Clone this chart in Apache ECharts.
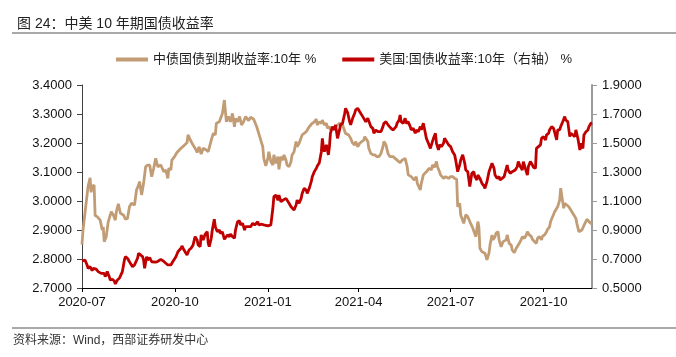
<!DOCTYPE html>
<html>
<head>
<meta charset="utf-8">
<script src="https://cdn.jsdelivr.net/npm/echarts@6/dist/echarts.min.js"></script>
<style>
html,body{margin:0;padding:0;background:#fff;}
#chart{width:676px;height:357px;}
</style>
</head>
<body>
<div id="chart"></div>
<script>
// ---- Data ----
const titleText = '图 24：中美 10 年期国债收益率';
const sourceText = '资料来源：Wind，西部证券研发中心';
const seriesNames = ['中债国债到期收益率:10年 %', '美国:国债收益率:10年（右轴） %'];
const xTickLabels = ['2020-07', '2020-10', '2021-01', '2021-04', '2021-07', '2021-10'];
const xMin = '2020-07-01';
const xMax = '2021-11-18';
const leftAxisRange = [2.7, 3.4, 0.1];
const rightAxisRange = [0.5, 1.9, 0.2];

const cnDates = ['2020-07-01','2020-07-02','2020-07-05','2020-07-07','2020-07-09','2020-07-10','2020-07-11','2020-07-13','2020-07-14','2020-07-16','2020-07-19','2020-07-21','2020-07-22','2020-07-23','2020-07-25','2020-07-27','2020-07-28','2020-07-30','2020-08-01','2020-08-03','2020-08-04','2020-08-06','2020-08-08','2020-08-11','2020-08-13','2020-08-15','2020-08-17','2020-08-19','2020-08-22','2020-08-24','2020-08-26','2020-08-27','2020-08-29','2020-08-31','2020-09-02','2020-09-04','2020-09-06','2020-09-08','2020-09-10','2020-09-12','2020-09-14','2020-09-15','2020-09-17','2020-09-20','2020-09-22','2020-09-24','2020-09-25','2020-09-27','2020-09-28','2020-10-01','2020-10-03','2020-10-07','2020-10-10','2020-10-13','2020-10-14','2020-10-17','2020-10-19','2020-10-22','2020-10-23','2020-10-25','2020-10-27','2020-10-29','2020-11-01','2020-11-03','2020-11-06','2020-11-08','2020-11-10','2020-11-11','2020-11-14','2020-11-15','2020-11-17','2020-11-19','2020-11-20','2020-11-21','2020-11-23','2020-11-25','2020-11-27','2020-11-29','2020-11-30','2020-12-02','2020-12-04','2020-12-06','2020-12-08','2020-12-10','2020-12-13','2020-12-15','2020-12-18','2020-12-19','2020-12-21','2020-12-23','2020-12-25','2020-12-27','2020-12-28','2020-12-30','2021-01-01','2021-01-02','2021-01-04','2021-01-06','2021-01-07','2021-01-09','2021-01-11','2021-01-12','2021-01-14','2021-01-16','2021-01-17','2021-01-19','2021-01-20','2021-01-22','2021-01-24','2021-01-25','2021-01-27','2021-01-29','2021-01-30','2021-02-01','2021-02-04','2021-02-06','2021-02-08','2021-02-11','2021-02-14','2021-02-16','2021-02-18','2021-02-19','2021-02-21','2021-02-23','2021-02-24','2021-02-26','2021-02-28','2021-03-01','2021-03-03','2021-03-04','2021-03-06','2021-03-09','2021-03-13','2021-03-16','2021-03-19','2021-03-22','2021-03-24','2021-03-26','2021-03-28','2021-03-29','2021-03-31','2021-04-02','2021-04-04','2021-04-06','2021-04-07','2021-04-10','2021-04-11','2021-04-13','2021-04-15','2021-04-17','2021-04-19','2021-04-21','2021-04-23','2021-04-25','2021-04-26','2021-04-28','2021-04-30','2021-05-02','2021-05-05','2021-05-07','2021-05-09','2021-05-12','2021-05-14','2021-05-17','2021-05-19','2021-05-20','2021-05-23','2021-05-24','2021-05-26','2021-05-28','2021-05-29','2021-06-01','2021-06-02','2021-06-04','2021-06-07','2021-06-08','2021-06-10','2021-06-12','2021-06-13','2021-06-15','2021-06-17','2021-06-18','2021-06-20','2021-06-21','2021-06-24','2021-06-26','2021-06-29','2021-07-01','2021-07-03','2021-07-05','2021-07-07','2021-07-08','2021-07-10','2021-07-11','2021-07-14','2021-07-16','2021-07-18','2021-07-20','2021-07-21','2021-07-23','2021-07-24','2021-07-26','2021-07-28','2021-07-29','2021-07-30','2021-08-01','2021-08-02','2021-08-04','2021-08-06','2021-08-08','2021-08-09','2021-08-11','2021-08-12','2021-08-14','2021-08-15','2021-08-17','2021-08-18','2021-08-20','2021-08-22','2021-08-23','2021-08-25','2021-08-26','2021-08-28','2021-08-30','2021-08-31','2021-09-02','2021-09-04','2021-09-05','2021-09-07','2021-09-09','2021-09-10','2021-09-12','2021-09-14','2021-09-15','2021-09-17','2021-09-19','2021-09-20','2021-09-22','2021-09-24','2021-09-25','2021-09-27','2021-09-29','2021-09-30','2021-10-02','2021-10-04','2021-10-05','2021-10-07','2021-10-08','2021-10-10','2021-10-12','2021-10-13','2021-10-15','2021-10-17','2021-10-18','2021-10-19','2021-10-21','2021-10-22','2021-10-24','2021-10-26','2021-10-28','2021-10-29','2021-10-31','2021-11-02','2021-11-03','2021-11-05','2021-11-06','2021-11-08','2021-11-09','2021-11-11','2021-11-13','2021-11-15','2021-11-17','2021-11-18'];
const cnYield = [2.850,2.900,2.990,3.050,3.080,3.030,3.050,3.055,2.950,2.946,2.934,2.900,2.911,2.860,2.877,2.929,2.940,2.963,2.952,2.934,2.963,2.990,2.958,2.952,2.937,2.940,2.980,2.992,2.986,3.038,3.055,3.067,3.021,3.061,3.118,3.124,3.124,3.084,3.113,3.147,3.118,3.113,3.124,3.101,3.107,3.078,3.113,3.107,3.141,3.155,3.167,3.182,3.191,3.201,3.228,3.205,3.193,3.176,3.167,3.187,3.162,3.182,3.176,3.170,3.210,3.233,3.228,3.268,3.273,3.270,3.302,3.348,3.308,3.273,3.291,3.273,3.302,3.256,3.285,3.273,3.291,3.262,3.273,3.291,3.277,3.289,3.282,3.285,3.256,3.233,3.210,3.187,3.147,3.121,3.147,3.170,3.136,3.124,3.159,3.130,3.153,3.109,3.153,3.141,3.159,3.141,3.124,3.118,3.136,3.159,3.170,3.205,3.187,3.199,3.228,3.233,3.239,3.256,3.268,3.273,3.282,3.262,3.273,3.268,3.279,3.262,3.268,3.251,3.256,3.245,3.251,3.256,3.268,3.262,3.233,3.228,3.216,3.199,3.193,3.205,3.187,3.199,3.205,3.210,3.222,3.205,3.182,3.164,3.159,3.159,3.153,3.153,3.164,3.187,3.205,3.193,3.164,3.153,3.153,3.147,3.141,3.132,3.141,3.147,3.118,3.090,3.084,3.090,3.072,3.084,3.061,3.038,3.061,3.090,3.101,3.095,3.113,3.107,3.124,3.116,3.136,3.118,3.101,3.090,3.078,3.084,3.078,3.084,3.084,3.078,3.075,2.980,2.992,2.952,2.923,2.952,2.946,2.929,2.934,2.906,2.900,2.877,2.929,2.910,2.837,2.825,2.831,2.820,2.797,2.820,2.848,2.883,2.866,2.877,2.889,2.894,2.866,2.842,2.860,2.854,2.866,2.883,2.854,2.848,2.831,2.822,2.837,2.842,2.854,2.868,2.877,2.871,2.883,2.894,2.883,2.877,2.868,2.860,2.854,2.871,2.877,2.866,2.879,2.883,2.894,2.902,2.911,2.929,2.946,2.963,2.963,2.980,3.003,3.044,3.020,2.975,2.992,2.986,2.980,2.969,2.963,2.952,2.940,2.923,2.894,2.894,2.900,2.900,2.923,2.937,2.929,2.923,2.920];

const usDates = ['2020-07-01','2020-07-02','2020-07-04','2020-07-06','2020-07-07','2020-07-09','2020-07-11','2020-07-12','2020-07-15','2020-07-17','2020-07-20','2020-07-21','2020-07-23','2020-07-24','2020-07-26','2020-07-28','2020-07-29','2020-07-31','2020-08-02','2020-08-03','2020-08-05','2020-08-07','2020-08-08','2020-08-10','2020-08-12','2020-08-13','2020-08-15','2020-08-17','2020-08-18','2020-08-20','2020-08-22','2020-08-23','2020-08-25','2020-08-26','2020-08-28','2020-08-30','2020-08-31','2020-09-01','2020-09-03','2020-09-04','2020-09-06','2020-09-08','2020-09-09','2020-09-12','2020-09-14','2020-09-17','2020-09-20','2020-09-24','2020-09-27','2020-09-29','2020-10-02','2020-10-04','2020-10-07','2020-10-08','2020-10-10','2020-10-13','2020-10-15','2020-10-17','2020-10-19','2020-10-21','2020-10-23','2020-10-24','2020-10-26','2020-10-27','2020-10-29','2020-10-31','2020-11-02','2020-11-03','2020-11-04','2020-11-06','2020-11-07','2020-11-09','2020-11-10','2020-11-12','2020-11-14','2020-11-15','2020-11-17','2020-11-19','2020-11-20','2020-11-22','2020-11-24','2020-11-25','2020-11-27','2020-11-29','2020-11-30','2020-12-02','2020-12-04','2020-12-05','2020-12-07','2020-12-09','2020-12-10','2020-12-12','2020-12-13','2020-12-15','2020-12-17','2020-12-19','2020-12-22','2020-12-23','2020-12-26','2020-12-28','2021-01-01','2021-01-04','2021-01-06','2021-01-07','2021-01-09','2021-01-11','2021-01-12','2021-01-14','2021-01-16','2021-01-17','2021-01-19','2021-01-20','2021-01-22','2021-01-24','2021-01-25','2021-01-27','2021-01-29','2021-01-30','2021-02-01','2021-02-03','2021-02-04','2021-02-06','2021-02-08','2021-02-09','2021-02-11','2021-02-13','2021-02-14','2021-02-16','2021-02-18','2021-02-19','2021-02-21','2021-02-23','2021-02-24','2021-02-25','2021-02-26','2021-02-28','2021-03-02','2021-03-03','2021-03-04','2021-03-06','2021-03-08','2021-03-09','2021-03-11','2021-03-13','2021-03-14','2021-03-16','2021-03-18','2021-03-19','2021-03-21','2021-03-23','2021-03-24','2021-03-26','2021-03-28','2021-03-29','2021-03-31','2021-04-02','2021-04-03','2021-04-05','2021-04-06','2021-04-08','2021-04-10','2021-04-11','2021-04-13','2021-04-15','2021-04-16','2021-04-18','2021-04-20','2021-04-23','2021-04-25','2021-04-26','2021-04-28','2021-04-30','2021-05-01','2021-05-03','2021-05-05','2021-05-06','2021-05-08','2021-05-09','2021-05-11','2021-05-12','2021-05-13','2021-05-15','2021-05-17','2021-05-18','2021-05-20','2021-05-22','2021-05-23','2021-05-25','2021-05-27','2021-05-28','2021-05-30','2021-06-01','2021-06-02','2021-06-04','2021-06-06','2021-06-07','2021-06-09','2021-06-11','2021-06-12','2021-06-14','2021-06-16','2021-06-17','2021-06-19','2021-06-20','2021-06-22','2021-06-24','2021-06-25','2021-06-27','2021-06-29','2021-07-01','2021-07-03','2021-07-05','2021-07-06','2021-07-08','2021-07-10','2021-07-11','2021-07-13','2021-07-15','2021-07-16','2021-07-18','2021-07-20','2021-07-21','2021-07-22','2021-07-24','2021-07-25','2021-07-27','2021-07-28','2021-07-30','2021-08-01','2021-08-03','2021-08-04','2021-08-06','2021-08-08','2021-08-09','2021-08-11','2021-08-13','2021-08-14','2021-08-16','2021-08-18','2021-08-19','2021-08-21','2021-08-23','2021-08-24','2021-08-26','2021-08-27','2021-08-29','2021-08-31','2021-09-01','2021-09-03','2021-09-05','2021-09-06','2021-09-08','2021-09-10','2021-09-11','2021-09-13','2021-09-15','2021-09-16','2021-09-18','2021-09-20','2021-09-21','2021-09-23','2021-09-24','2021-09-26','2021-09-28','2021-09-29','2021-10-01','2021-10-03','2021-10-04','2021-10-06','2021-10-07','2021-10-09','2021-10-11','2021-10-12','2021-10-14','2021-10-15','2021-10-17','2021-10-18','2021-10-20','2021-10-22','2021-10-23','2021-10-25','2021-10-27','2021-10-28','2021-10-30','2021-11-01','2021-11-02','2021-11-04','2021-11-06','2021-11-07','2021-11-09','2021-11-10','2021-11-12','2021-11-14','2021-11-15','2021-11-17','2021-11-18'];
const usYield = [0.686,0.683,0.693,0.659,0.636,0.647,0.620,0.636,0.630,0.613,0.601,0.590,0.601,0.578,0.613,0.578,0.555,0.560,0.548,0.528,0.555,0.567,0.578,0.613,0.693,0.716,0.705,0.681,0.670,0.647,0.659,0.670,0.705,0.739,0.728,0.716,0.693,0.636,0.716,0.693,0.710,0.681,0.670,0.678,0.683,0.698,0.683,0.659,0.659,0.683,0.716,0.750,0.774,0.790,0.762,0.728,0.762,0.774,0.797,0.854,0.831,0.797,0.785,0.866,0.831,0.872,0.888,0.808,0.785,0.843,0.900,0.974,0.923,0.888,0.900,0.877,0.888,0.836,0.843,0.866,0.854,0.872,0.854,0.843,0.900,0.957,0.963,0.935,0.946,0.900,0.923,0.923,0.920,0.923,0.946,0.935,0.957,0.935,0.940,0.935,0.928,0.935,1.050,1.130,1.141,1.106,1.141,1.095,1.106,1.095,1.118,1.106,1.084,1.060,1.050,1.038,1.072,1.106,1.084,1.118,1.152,1.187,1.175,1.152,1.187,1.233,1.267,1.302,1.325,1.341,1.364,1.440,1.532,1.475,1.440,1.487,1.418,1.475,1.567,1.613,1.590,1.625,1.532,1.590,1.625,1.636,1.700,1.739,1.710,1.647,1.625,1.670,1.705,1.728,1.739,1.716,1.705,1.682,1.693,1.647,1.670,1.682,1.613,1.601,1.567,1.590,1.578,1.578,1.613,1.636,1.647,1.625,1.613,1.601,1.590,1.578,1.613,1.636,1.659,1.693,1.647,1.636,1.670,1.636,1.647,1.613,1.590,1.601,1.567,1.590,1.578,1.613,1.590,1.636,1.567,1.532,1.498,1.463,1.487,1.532,1.567,1.498,1.452,1.487,1.475,1.498,1.532,1.510,1.487,1.475,1.440,1.418,1.383,1.302,1.349,1.383,1.418,1.360,1.314,1.302,1.199,1.245,1.291,1.302,1.268,1.245,1.279,1.256,1.222,1.204,1.187,1.233,1.302,1.314,1.360,1.325,1.279,1.256,1.268,1.245,1.256,1.268,1.268,1.348,1.314,1.291,1.302,1.291,1.314,1.337,1.372,1.337,1.314,1.372,1.325,1.279,1.337,1.372,1.348,1.333,1.325,1.463,1.475,1.487,1.532,1.544,1.521,1.556,1.567,1.590,1.613,1.601,1.590,1.521,1.590,1.590,1.613,1.647,1.682,1.659,1.647,1.544,1.567,1.556,1.544,1.590,1.532,1.452,1.498,1.463,1.556,1.578,1.590,1.613,1.636,1.640];

// ---- Build ----
function parseT(s) {
  const p = s.split('-').map(Number);
  return Date.UTC(p[0], p[1] - 1, p[2] || 1);
}
function fmtMonth(t) {
  const d = new Date(t);
  const m = d.getUTCMonth() + 1;
  return d.getUTCFullYear() + '-' + (m < 10 ? '0' + m : m);
}
const zip = (d, v) => d.map((x, i) => [parseT(x), v[i]]);
const tickValues = xTickLabels.map(s => parseT(s + '-01'));
const fontAxis = "'Liberation Sans', Arial, sans-serif";
const fontCJK = "'Liberation Sans', 'Noto Sans CJK SC', sans-serif";
const cnColor = '#C19C75';
const usColor = '#C00000';

const chart = echarts.init(document.getElementById('chart'), null, {renderer: 'canvas'});
chart.setOption({
  animation: false,
  backgroundColor: '#ffffff',
  title: {
    text: titleText,
    left: 12, top: 12,
    textStyle: {fontSize: 14, fontWeight: 'normal', color: '#222', fontFamily: fontCJK}
  },
  graphic: [
    {type: 'line', shape: {x1: 12, y1: 33, x2: 676, y2: 33}, style: {stroke: '#8c8c8c', lineWidth: 1.5}},
    {type: 'line', shape: {x1: 12, y1: 328, x2: 676, y2: 328}, style: {stroke: '#8c8c8c', lineWidth: 1.5}},
    {type: 'text', left: 13, top: 335, style: {text: sourceText, fill: '#333', font: "12px 'Liberation Sans', 'Noto Sans CJK SC', sans-serif"}}
  ],
  legend: {
    left: 111, top: 48,
    itemGap: 26, itemWidth: 32, itemHeight: 4,
    icon: 'rect',
    textStyle: {fontSize: 13, color: '#222', fontFamily: fontCJK},
    data: seriesNames
  },
  grid: {left: 82, right: 84, top: 85, bottom: 69, containLabel: false},
  xAxis: {
    type: 'value',
    min: parseT(xMin), max: parseT(xMax),
    axisLine: {show: true, onZero: false, lineStyle: {color: '#000', width: 1}},
    axisTick: {show: true, length: 4, lineStyle: {color: '#000'}, customValues: tickValues},
    axisLabel: {
      fontSize: 13, color: '#111', fontFamily: fontAxis, margin: 8,
      customValues: tickValues,
      formatter: v => fmtMonth(v)
    },
    splitLine: {show: false}
  },
  yAxis: [
    {
      type: 'value', position: 'left',
      min: leftAxisRange[0], max: leftAxisRange[1], interval: leftAxisRange[2],
      axisLine: {show: true, lineStyle: {color: '#404040', width: 1}},
      axisTick: {show: true, inside: false, length: 5, lineStyle: {color: '#404040'}},
      axisLabel: {fontSize: 13, color: '#111', fontFamily: fontAxis, margin: 10, formatter: v => v.toFixed(4)},
      splitLine: {show: false}
    },
    {
      type: 'value', position: 'right',
      min: rightAxisRange[0], max: rightAxisRange[1], interval: rightAxisRange[2],
      axisLine: {show: true, lineStyle: {color: '#9a9a9a', width: 2}},
      axisTick: {show: true, inside: false, length: 5, lineStyle: {color: '#9a9a9a'}},
      axisLabel: {fontSize: 13, color: '#111', fontFamily: fontAxis, margin: 10, formatter: v => v.toFixed(4)},
      splitLine: {show: false}
    }
  ],
  series: [
    {
      name: seriesNames[0], type: 'line', yAxisIndex: 0,
      data: zip(cnDates, cnYield),
      showSymbol: false, symbol: 'none',
      lineStyle: {color: cnColor, width: 2.8},
      itemStyle: {color: cnColor}
    },
    {
      name: seriesNames[1], type: 'line', yAxisIndex: 1,
      data: zip(usDates, usYield),
      showSymbol: false, symbol: 'none',
      lineStyle: {color: usColor, width: 2.8},
      itemStyle: {color: usColor}
    }
  ]
});
</script>
</body>
</html>
